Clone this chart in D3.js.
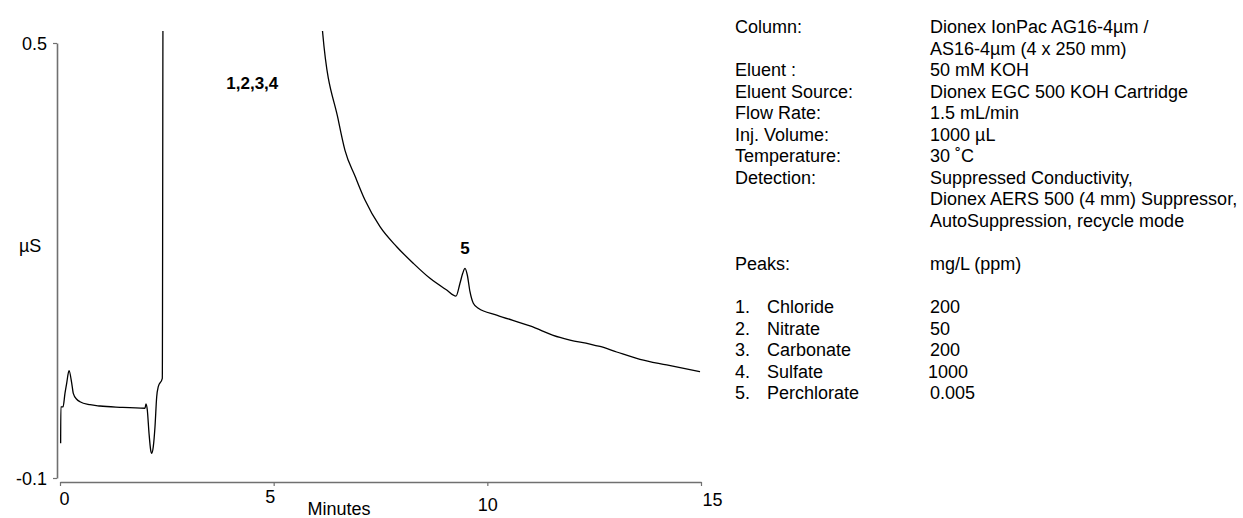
<!DOCTYPE html>
<html>
<head>
<meta charset="utf-8">
<script src="https://cdn.jsdelivr.net/npm/d3@7"></script>
<style>
  body { margin: 0; background: #fff; }
  svg { display: block; font-family: "Liberation Sans", Arial, sans-serif; }
</style>
</head>
<body>
<svg id="chart" width="1243" height="518"></svg>
<script>
// Chromatogram trace: retention time (min) and conductivity (µS)
const times = [0.015, 0.02, 0.070, 0.117, 0.157, 0.211, 0.274, 0.311, 0.391, 0.468, 0.702, 0.936, 1.404,
  1.989, 2.012, 2.043, 2.083, 2.122, 2.146, 2.183, 2.223, 2.263, 2.300, 2.394, 2.417,
  5.95, 6.147, 6.512, 6.669, 6.903, 7.137, 7.488, 7.879, 8.268, 8.658, 9.049,
  9.267, 9.360, 9.424, 9.478, 9.531, 9.594, 9.672, 9.789, 10.219, 10.998, 11.700,
  11.934, 12.402, 12.636, 13.027, 13.572, 14.197, 14.978];
const signal = [-0.052, -0.002, -0.002, 0.017, 0.031, 0.048, 0.031, 0.0168, 0.0086, 0.0052, 0.0011, -0.0007, -0.0025,
  -0.0038, 0.0021, -0.0062, -0.0383, -0.0614, -0.0659, -0.0568, -0.0292, 0.0121, 0.0259, 0.0375, 0.75,
  0.75, 0.5138, 0.394, 0.352, 0.3166, 0.2834, 0.2466, 0.219, 0.1961, 0.1754, 0.1593,
  0.151, 0.1686, 0.1823, 0.1892, 0.18, 0.157, 0.141, 0.1341, 0.1248, 0.1097, 0.0938,
  0.0903, 0.0848, 0.0814, 0.0738, 0.0637, 0.0559, 0.0466];

const xTicks = [0, 5, 10, 15];
const yTicks = [-0.1, 0.5];

// Peak annotations
const peakLabels = ["1,2,3,4", "5"];
const peakLabelTimes = [4.5, 9.478];
const peakLabelValues = [0.437, 0.209];

// Method conditions
const conditionLabels = ["Column:", "", "Eluent :", "Eluent Source:", "Flow Rate:", "Inj. Volume:",
  "Temperature:", "Detection:", "", "", "", "Peaks:"];
const conditionValues = ["Dionex IonPac AG16-4µm /", "AS16-4µm (4 x 250 mm)", "50 mM KOH",
  "Dionex EGC 500 KOH Cartridge", "1.5 mL/min", "1000 µL", "30 ˚C", "Suppressed Conductivity,",
  "Dionex AERS 500 (4 mm) Suppressor,", "AutoSuppression, recycle mode", "", "mg/L (ppm)"];

// Analytes
const peakNumbers = ["1.", "2.", "3.", "4.", "5."];
const peakNames = ["Chloride", "Nitrate", "Carbonate", "Sulfate", "Perchlorate"];
const peakConc = ["200", "50", "200", "1000", "0.005"];

const svg = d3.select("#chart");
const x = d3.scaleLinear().domain([0, 15]).range([60, 701]);
const y = d3.scaleLinear().domain([-0.1, 0.5]).range([478, 43]);
const fontSize = 18;
const axisColor = "#707070";

// Y axis (plain hyphen for the negative label)
const yAxis = svg.append("g").attr("transform", "translate(57,0)")
  .call(d3.axisLeft(y).tickValues(yTicks).tickFormat(d => d.toFixed(1)).tickSize(4).tickSizeOuter(0).tickPadding(6));
yAxis.select(".domain").attr("stroke", axisColor).attr("stroke-width", 1.6);
yAxis.selectAll(".tick line").attr("stroke", axisColor).attr("stroke-width", 1.2);
yAxis.selectAll(".tick text").attr("font-size", fontSize).attr("fill", "#000")
  .attr("font-family", "Liberation Sans, Arial, sans-serif").attr("dy", "0.35em");

// X axis, labels nudged individually
const xShift = { 0: [4, 23], 5: [-4, 21], 10: [0, 28.5], 15: [11, 23.5] };
const xAxis = svg.append("g").attr("transform", "translate(0,482)")
  .call(d3.axisBottom(x).tickValues(xTicks).tickFormat(d3.format("d")).tickSize(4).tickSizeOuter(0));
xAxis.select(".domain").attr("stroke", axisColor).attr("stroke-width", 1.6);
xAxis.selectAll(".tick line").attr("stroke", axisColor).attr("stroke-width", 1.2);
xAxis.selectAll(".tick text").attr("font-size", fontSize).attr("fill", "#000")
  .attr("font-family", "Liberation Sans, Arial, sans-serif")
  .attr("dy", null)
  .attr("x", d => xShift[d][0])
  .attr("y", d => xShift[d][1]);

svg.append("text").attr("x", 339).attr("y", 515).attr("text-anchor", "middle")
  .attr("font-size", fontSize).text("Minutes");
svg.append("text").attr("x", 19).attr("y", 252).attr("font-size", fontSize).text("µS");

// Trace, clipped just above the top of the y range
svg.append("clipPath").attr("id", "plotClip").append("rect")
  .attr("x", 50).attr("y", 31).attr("width", 670).attr("height", 470);

const pts = times.map((t, i) => [t, signal[i]]);
svg.append("path")
  .datum(pts)
  .attr("clip-path", "url(#plotClip)")
  .attr("fill", "none")
  .attr("stroke", "#000")
  .attr("stroke-width", 1.3)
  .attr("stroke-linejoin", "round")
  .attr("d", d3.line().x(d => x(d[0])).y(d => y(d[1])).curve(d3.curveMonotoneX));

svg.selectAll("text.peak").data(peakLabels).enter().append("text")
  .attr("class", "peak")
  .attr("x", (d, i) => x(peakLabelTimes[i]))
  .attr("y", (d, i) => y(peakLabelValues[i]))
  .attr("text-anchor", "middle")
  .attr("font-size", fontSize - 1)
  .attr("font-weight", "bold")
  .text(d => d);

// Conditions block
const rowH = 21.55, row0 = 33, labelX = 735, valueX = 930;
const info = svg.append("g").attr("font-size", fontSize);
conditionLabels.forEach((t, i) => {
  if (t) info.append("text").attr("x", labelX).attr("y", row0 + i * rowH).text(t);
});
conditionValues.forEach((t, i) => {
  if (t) info.append("text").attr("x", valueX).attr("y", row0 + i * rowH).text(t);
});
peakNames.forEach((name, i) => {
  const yy = row0 + (13 + i) * rowH;
  info.append("text").attr("x", labelX).attr("y", yy).text(peakNumbers[i]);
  info.append("text").attr("x", 767).attr("y", yy).text(name);
  info.append("text").attr("x", peakConc[i].length === 4 ? 928 : 930).attr("y", yy).text(peakConc[i]);
});
</script>
</body>
</html>
